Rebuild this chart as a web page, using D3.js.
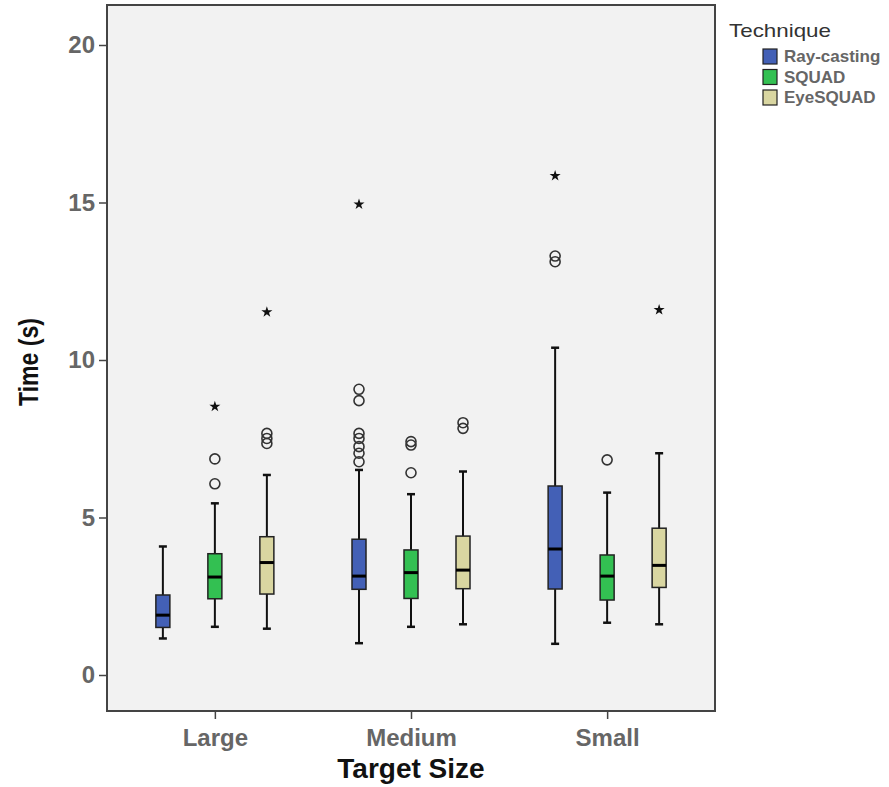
<!DOCTYPE html>
<html>
<head>
<meta charset="utf-8">
<script src="https://cdn.jsdelivr.net/npm/d3@7"></script>
<style>
  body { margin: 0; background: #fff; }
  svg text { font-family: "Liberation Sans", Arial, sans-serif; }
</style>
</head>
<body>
<div id="chart"></div>
<script>
// data
const sizes = ["Large", "Medium", "Small"];
const techniques = ["Ray-casting", "SQUAD", "EyeSQUAD"];
const colors = ["#4360b6", "#33c052", "#d9d6a1"];
const yTicks = [0, 5, 10, 15, 20];

// box stats per technique, one entry per target size: [whiskerLow, q1, median, q3, whiskerHigh]
const rayStats = [[1.16, 1.51, 1.90, 2.54, 4.08], [1.01, 2.72, 3.14, 4.31, 6.51], [0.99, 2.73, 4.00, 6.00, 10.39]];
const squadStats = [[1.53, 2.42, 3.11, 3.85, 5.45], [1.53, 2.43, 3.25, 3.97, 5.74], [1.66, 2.38, 3.14, 3.81, 5.79]];
const eyeStats = [[1.47, 2.57, 3.57, 4.39, 6.35], [1.61, 2.74, 3.33, 4.41, 6.46], [1.61, 2.78, 3.48, 4.66, 7.04]];

// outliers (circles) and extremes (stars)
const rayOut = [[], [6.77, 7.04, 7.25, 7.51, 7.67, 8.71, 9.07], [13.12, 13.30]];
const squadOut = [[6.07, 6.86], [6.42, 7.30, 7.41], [6.83]];
const eyeOut = [[7.35, 7.51, 7.67], [7.83, 8.01], []];
const rayExt = [[], [14.94], [15.85]];
const squadExt = [[8.52], [], []];
const eyeExt = [[11.52], [], [11.59]];

const stats = [rayStats, squadStats, eyeStats];
const outs = [rayOut, squadOut, eyeOut];
const exts = [rayExt, squadExt, eyeExt];

const width = 889, height = 787;
const plot = { left: 107, right: 715, top: 5, bottom: 711 };

const svg = d3.select("#chart").append("svg")
  .attr("width", width)
  .attr("height", height);

// scales
const x = d3.scalePoint()
  .domain(sizes)
  .range([plot.left, plot.right])
  .padding(0.55);
const xInner = d3.scalePoint()
  .domain(techniques)
  .range([-52, 52]);
const y = d3.scaleLinear()
  .domain([0, 20])
  .range([675, 45]);

// plot background
svg.append("rect")
  .attr("x", plot.left)
  .attr("y", plot.top)
  .attr("width", plot.right - plot.left)
  .attr("height", plot.bottom - plot.top)
  .attr("fill", "#f2f2f2")
  .attr("stroke", "#444")
  .attr("stroke-width", 2);

// axes
const yAxis = svg.append("g")
  .attr("transform", `translate(${plot.left},0)`)
  .call(d3.axisLeft(y).tickValues(yTicks).tickSize(8).tickPadding(4));
const xAxis = svg.append("g")
  .attr("transform", `translate(0,${plot.bottom})`)
  .call(d3.axisBottom(x).tickSize(8).tickPadding(5));
[yAxis, xAxis].forEach(g => {
  g.select(".domain").remove();
  g.selectAll(".tick line").attr("stroke", "#444").attr("stroke-width", 1.5);
  g.selectAll(".tick text")
    .attr("fill", "#666")
    .attr("font-size", "24px")
    .attr("font-weight", "bold");
});
xAxis.selectAll(".tick text").attr("dy", "0.9em");

// axis titles
svg.append("text")
  .attr("x", 411)
  .attr("y", 778)
  .attr("text-anchor", "middle")
  .attr("font-size", "28px")
  .attr("font-weight", "bold")
  .attr("fill", "#111")
  .text("Target Size");
svg.append("text")
  .attr("transform", "translate(38,362) rotate(-90)")
  .attr("text-anchor", "middle")
  .attr("font-size", "27px")
  .attr("font-weight", "bold")
  .attr("fill", "#111")
  .attr("textLength", 88)
  .attr("lengthAdjust", "spacingAndGlyphs")
  .text("Time (s)");

// build box records
const boxes = [];
techniques.forEach((t, ti) => {
  sizes.forEach((s, si) => {
    const [lo, q1, med, q3, hi] = stats[ti][si];
    boxes.push({ t, s, ti, lo, q1, med, q3, hi, out: outs[ti][si], ext: exts[ti][si] });
  });
});

const boxW = 14, capW = 8;
const g = svg.append("g").selectAll("g")
  .data(boxes)
  .join("g")
  .attr("transform", d => `translate(${x(d.s) + xInner(d.t)},0)`);

// whiskers
g.append("line")
  .attr("x1", 0).attr("x2", 0)
  .attr("y1", d => y(d.lo)).attr("y2", d => y(d.hi))
  .attr("stroke", "#111").attr("stroke-width", 2);
g.append("line")
  .attr("x1", -capW / 2).attr("x2", capW / 2)
  .attr("y1", d => y(d.lo)).attr("y2", d => y(d.lo))
  .attr("stroke", "#111").attr("stroke-width", 2.5);
g.append("line")
  .attr("x1", -capW / 2).attr("x2", capW / 2)
  .attr("y1", d => y(d.hi)).attr("y2", d => y(d.hi))
  .attr("stroke", "#111").attr("stroke-width", 2.5);

// box
g.append("rect")
  .attr("x", -boxW / 2)
  .attr("width", boxW)
  .attr("y", d => y(d.q3))
  .attr("height", d => y(d.q1) - y(d.q3))
  .attr("fill", d => colors[d.ti])
  .attr("stroke", "#222")
  .attr("stroke-width", 1.5);

// median
g.append("line")
  .attr("x1", -boxW / 2).attr("x2", boxW / 2)
  .attr("y1", d => y(d.med)).attr("y2", d => y(d.med))
  .attr("stroke", "#000").attr("stroke-width", 3);

// outliers
g.selectAll("circle")
  .data(d => d.out)
  .join("circle")
  .attr("cx", 0)
  .attr("cy", v => y(v))
  .attr("r", 5)
  .attr("fill", "none")
  .attr("stroke", "#333")
  .attr("stroke-width", 1.6);

// extremes
const star = d3.symbol().type(d3.symbolStar).size(38);
g.selectAll("path.ext")
  .data(d => d.ext)
  .join("path")
  .attr("class", "ext")
  .attr("d", star)
  .attr("transform", v => `translate(0,${y(v)})`)
  .attr("fill", "#111");

// legend
const legend = svg.append("g").attr("transform", "translate(729,0)");
legend.append("text")
  .attr("x", 0)
  .attr("y", 37)
  .attr("font-size", "19px")
  .attr("fill", "#333")
  .attr("font-family", "DejaVu Sans, sans-serif")
  .attr("textLength", 102)
  .attr("lengthAdjust", "spacingAndGlyphs")
  .text("Technique");
const li = legend.selectAll("g.item")
  .data(techniques)
  .join("g")
  .attr("class", "item")
  .attr("transform", (d, i) => `translate(34,${49 + i * 20.5})`);
li.append("rect")
  .attr("width", 14)
  .attr("height", 15)
  .attr("fill", (d, i) => colors[i])
  .attr("stroke", "#222")
  .attr("stroke-width", 1.2);
li.append("text")
  .attr("x", 21)
  .attr("y", 13)
  .attr("font-size", "17px")
  .attr("font-weight", "bold")
  .attr("fill", "#666")
  .text(d => d);
</script>
</body>
</html>
